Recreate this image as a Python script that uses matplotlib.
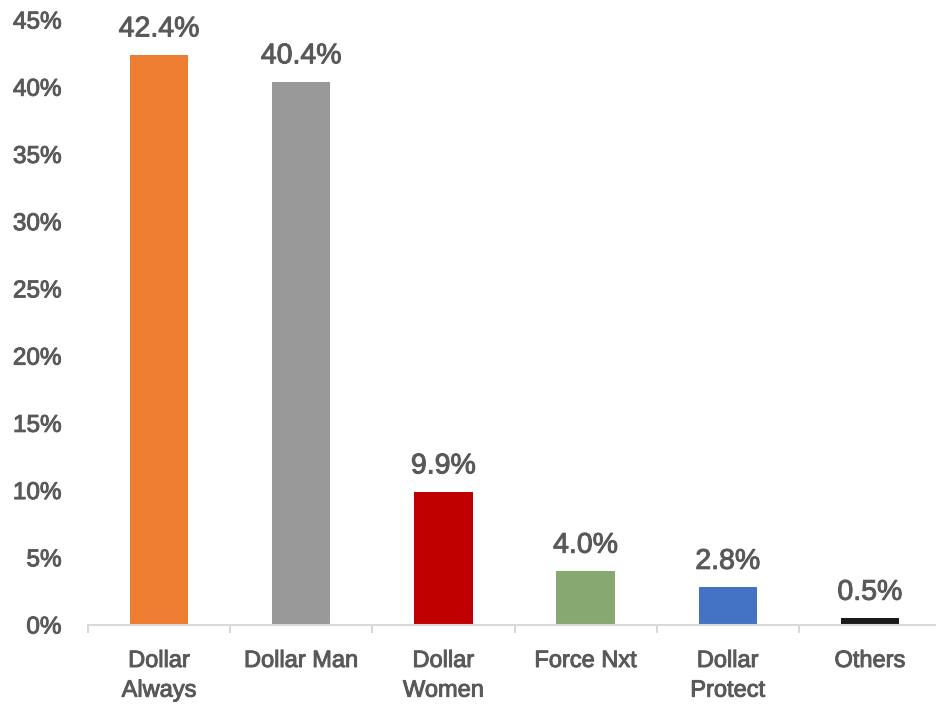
import numpy as np
import matplotlib.pyplot as plt
import matplotlib.patheffects as pe
from matplotlib.ticker import PercentFormatter, FixedLocator

FONT = 'Liberation Sans'
TEXT_COLOR = '#595959'

categories = ['Dollar\nAlways', 'Dollar Man', 'Dollar\nWomen', 'Force Nxt', 'Dollar\nProtect', 'Others']
shares = [42.4, 40.4, 9.9, 4.0, 2.8, 0.5]
bar_colors = ['#ED7D31', '#999999', '#C00000', '#87A870', '#4472C4', '#1A1A1A']

plt.rcParams['font.family'] = [FONT, 'DejaVu Sans']

# text in the source looks a little heavier than plain regular
heavy = [pe.withStroke(linewidth=0.7, foreground=TEXT_COLOR)]

fig = plt.figure(figsize=(9.37, 7.07), dpi=100)
ax = fig.add_axes([88 / 937, 82 / 707, 853 / 937, 605 / 707])

ind = np.arange(len(categories))
bars = ax.bar(ind, shares, 0.41, color=bar_colors, zorder=2)

for rect, v in zip(bars, shares):
    ax.annotate('%.1f%%' % v, (rect.get_x() + rect.get_width() / 2, rect.get_height()),
                xytext=(0, 9), textcoords='offset points', ha='center', va='bottom',
                fontsize=20.5, color=TEXT_COLOR, path_effects=heavy)

ax.set_xlim(-0.5, len(categories) - 0.5)
ax.set_ylim(0, 45)
ax.set_yticks(np.arange(0, 46, 5))
ax.yaxis.set_major_formatter(PercentFormatter(decimals=0))
ax.tick_params(axis='y', length=0, pad=19, labelsize=17.5, labelcolor=TEXT_COLOR)
for lab in ax.get_yticklabels():
    lab.set_path_effects(heavy)

ax.set_xticks(ind)
ax.set_xticklabels(categories, fontsize=17, color=TEXT_COLOR, linespacing=1.45)
for lab in ax.get_xticklabels():
    lab.set_path_effects(heavy)
ax.tick_params(axis='x', which='major', length=0, pad=18)
ax.xaxis.set_minor_locator(FixedLocator(np.arange(-0.5, len(categories), 1.0)))
ax.tick_params(axis='x', which='minor', length=6, width=1.5, color='#D9D9D9')

for side in ['left', 'right', 'top']:
    ax.spines[side].set_visible(False)
ax.spines['bottom'].set_color('#D9D9D9')
ax.spines['bottom'].set_linewidth(1.5)
ax.spines['bottom'].set_zorder(3)

fig.savefig('out.png', dpi=100)
